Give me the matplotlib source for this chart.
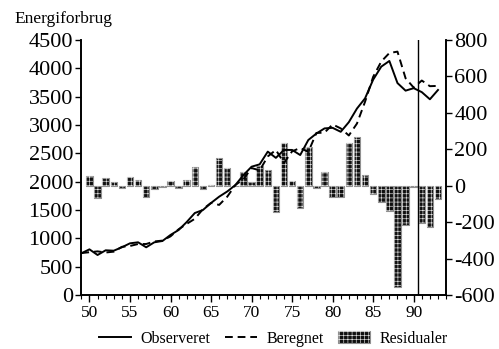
import numpy as np
import matplotlib
matplotlib.use("Agg")
import matplotlib.pyplot as plt
from matplotlib.ticker import MultipleLocator

plt.rcParams['font.family'] = 'Liberation Serif'
plt.rcParams['axes.unicode_minus'] = False
plt.rcParams['hatch.linewidth'] = 0.45

# data
years = list(range(49, 94))
observeret = [736, 806, 706, 789, 782, 842, 912, 930, 842, 930,
              953, 1060, 1147, 1288, 1447, 1500, 1624, 1735, 1827, 1940,
              2117, 2264, 2306, 2530, 2420, 2560, 2560, 2470, 2735, 2850,
              2940, 2950, 2880, 3050, 3290, 3470, 3800, 4030, 4130, 3740,
              3606, 3650, 3580, 3454, 3618]
beregnet = [740, 755, 770, 750, 765, 850, 865, 900, 900, 945,
            960, 1035, 1160, 1255, 1345, 1515, 1625, 1590, 1735, 1940,
            2045, 2240, 2200, 2445, 2560, 2330, 2535, 2595, 2525, 2860,
            2865, 3010, 2940, 2815, 3025, 3410, 3850, 4120, 4270, 4295,
            3825, 3660, 3785, 3685, 3690]
res_years = list(range(50, 94))
residualer = [51, -70, 44, 18, -11, 49, 31, -62, -18, -6,
              26, -15, 33, 104, -18, 4, 150, 95, -3, 73,
              22, 108, 86, -143, 233, 26, -125, 211, -11, 77,
              -60, -60, 233, 266, 59, -48, -88, -139, -556, -217,
              -9, -207, -229, -73]

fig = plt.figure(figsize=(4.99, 3.49), dpi=100)
ax = fig.add_axes([0.163, 0.1547, 0.731, 0.7307])
ax2 = ax.twinx()

# residual bars on right axis
b1 = ax2.bar(res_years, residualer, width=0.8, color='#101010',
             edgecolor='#909090', linewidth=0.8, zorder=2)
b2 = ax2.bar(res_years, residualer, width=0.8, facecolor='none',
             edgecolor='#e0e0e0', hatch='++++', linewidth=0, zorder=3)
ax2.set_ylim(-600, 800)
ax2.set_yticks(range(-600, 801, 200))

# lines on left axis, drawn above the bars
ax.set_zorder(ax2.get_zorder() + 1)
ax.patch.set_visible(False)
l1, = ax.plot(years, observeret, color='black', lw=1.4)
l2, = ax.plot(years, beregnet, color='black', lw=1.4, dashes=(4, 2.5))
ax.axvline(90.5, color='black', lw=1)

ax.set_xlim(49, 94)
ax.set_ylim(0, 4500)
ax.set_yticks(range(0, 4501, 500))
ax.xaxis.set_major_locator(MultipleLocator(5))
ax.xaxis.set_minor_locator(MultipleLocator(1))

for a in (ax, ax2):
    a.spines['top'].set_visible(False)
    a.spines['left'].set_linewidth(1.2)
    a.spines['right'].set_linewidth(1.2)
    a.spines['bottom'].set_linewidth(1.2)
ax.tick_params(axis='y', labelsize=16, length=4, width=1, pad=2)
ax2.tick_params(axis='y', labelsize=16, length=4, width=1, pad=2)
ax.tick_params(axis='x', which='major', labelsize=12.5, length=5, width=1, pad=2)
ax.tick_params(axis='x', which='minor', length=3, width=0.8)

fig.text(0.028, 0.945, 'Energiforbrug', fontsize=12.5, ha='left', va='center')

fig.legend([l1, l2, (b1, b2)], ['Observeret', 'Beregnet', 'Residualer'],
           loc='center', bbox_to_anchor=(0.548, 0.03), ncol=3, frameon=False,
           fontsize=11.5, handlelength=2.0, handletextpad=0.6, columnspacing=0.9)

fig.savefig('out.png', dpi=100)
